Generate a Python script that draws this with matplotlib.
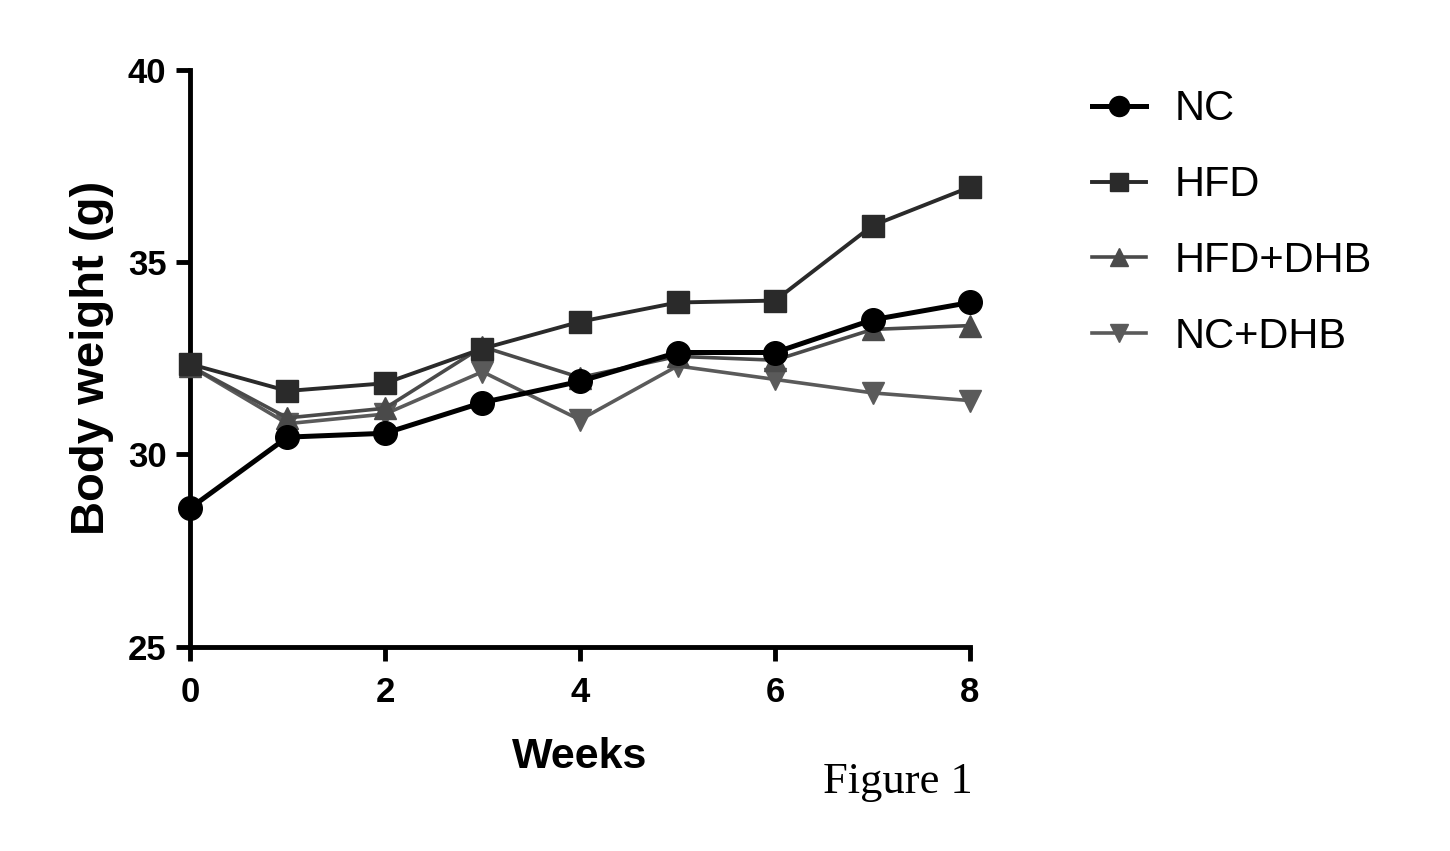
import matplotlib
matplotlib.use("Agg")
import matplotlib.pyplot as plt

# body weight over 8 weeks
weeks = [0, 1, 2, 3, 4, 5, 6, 7, 8]
nc = [28.6, 30.45, 30.55, 31.35, 31.9, 32.65, 32.65, 33.5, 33.95]
hfd = [32.35, 31.65, 31.85, 32.75, 33.45, 33.95, 34.0, 35.95, 36.95]
hfd_dhb = [32.3, 30.95, 31.2, 32.8, 32.0, 32.55, 32.45, 33.25, 33.35]
nc_dhb = [32.3, 30.8, 31.05, 32.15, 30.9, 32.3, 31.95, 31.6, 31.4]

series_names = ["NC", "HFD", "HFD+DHB", "NC+DHB"]

plt.rcParams['font.family'] = ['Liberation Sans', 'DejaVu Sans']

fig = plt.figure(figsize=(14.5, 8.51), dpi=100)
ax = fig.add_axes([0.131, 0.24, 0.538, 0.678])

ax.plot(weeks, nc, color='black', lw=3.6, marker='o', ms=17,
        label=series_names[0], clip_on=False, zorder=6)
ax.plot(weeks, hfd, color='#2a2a2a', lw=2.8, marker='s', ms=16,
        label=series_names[1], clip_on=False, zorder=5)
ax.plot(weeks, hfd_dhb, color='#4a4a4a', lw=2.6, marker='^', ms=16,
        label=series_names[2], clip_on=False, zorder=4)
ax.plot(weeks, nc_dhb, color='#5a5a5a', lw=2.6, marker='v', ms=16,
        label=series_names[3], clip_on=False, zorder=3)

ax.set_xlim(0, 8)
ax.set_ylim(25, 40)
ax.set_xticks([0, 2, 4, 6, 8])
ax.set_yticks([25, 30, 35, 40])

for side in ['top', 'right']:
    ax.spines[side].set_visible(False)
for side in ['left', 'bottom']:
    ax.spines[side].set_linewidth(3.5)

ax.tick_params(axis='both', width=3.5, length=10, labelsize=25)
ax.tick_params(axis='x', pad=11)
ax.tick_params(axis='y', pad=7)
for lab in ax.get_xticklabels() + ax.get_yticklabels():
    lab.set_fontweight('bold')

ax.set_ylabel("Body weight (g)", fontsize=34, fontweight='bold', labelpad=10)
ax.set_xlabel("Weeks", fontsize=31, fontweight='bold', labelpad=20)

leg = fig.legend(loc='upper left', bbox_to_anchor=(0.727, 0.939), frameon=False,
                 fontsize=30, handlelength=1.3, handletextpad=0.7,
                 labelspacing=0.86, markerscale=0.85)

fig.text(0.671, 0.068, "Figure 1", fontsize=32, family='Liberation Serif',
         ha='right', va='baseline')

fig.savefig("out.png", dpi=100)
